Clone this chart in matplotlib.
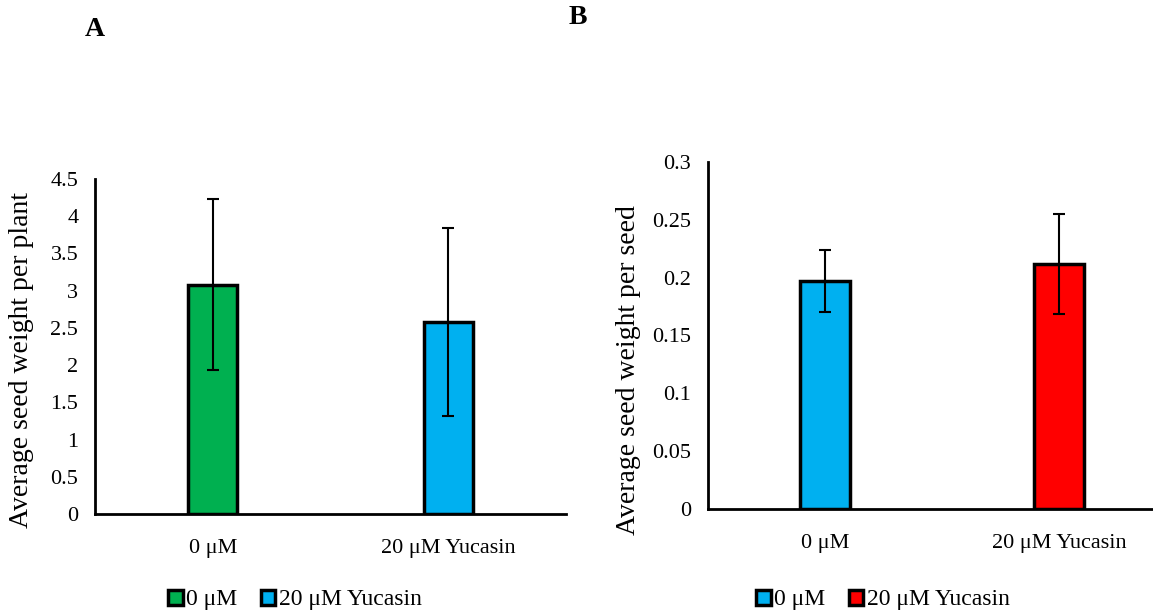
import matplotlib.pyplot as plt

plt.rcParams['font.family'] = ['Liberation Serif', 'DejaVu Serif']

# panel A data
cats_a = ['0 μM', '20 μM Yucasin']
vals_a = [3.08, 2.58]
errs_a = [1.15, 1.26]
cols_a = ['#00B050', '#00B0F0']

# panel B data
cats_b = ['0 μM', '20 μM Yucasin']
vals_b = [0.197, 0.212]
errs_b = [0.027, 0.043]
cols_b = ['#00B0F0', '#FF0000']

W, H = 1153, 615
fig = plt.figure(figsize=(W / 100, H / 100), dpi=100)

def px_axes(x0, y0, x1, y1):
    # pixel box (top-left origin) -> figure fraction
    return fig.add_axes([x0 / W, 1 - y1 / H, (x1 - x0) / W, (y1 - y0) / H])

def draw(ax, cats, vals, errs, cols, ymax, step, ylabel, label_xy):
    x = [0.5, 1.5]
    bars = ax.bar(x, vals, width=0.21, color=cols, edgecolor='black', linewidth=2.5,
                  yerr=errs, capsize=4, error_kw=dict(elinewidth=1.5, capthick=1.5, ecolor='black'))
    ax.set_xlim(0, 2)
    ax.set_ylim(0, ymax)
    ticks = [i * step for i in range(int(round(ymax / step)) + 1)]
    ax.set_yticks(ticks)
    ax.set_yticklabels(['%g' % round(t, 2) for t in ticks])
    ax.set_xticks(x)
    ax.set_xticklabels(cats)
    ax.tick_params(length=0, labelsize=16, pad=12)
    ax.tick_params(axis='x', pad=18)
    for s in ['top', 'right']:
        ax.spines[s].set_visible(False)
    for s in ['left', 'bottom']:
        ax.spines[s].set_linewidth(2)
    ax.set_ylabel(ylabel, fontsize=20)
    ax.yaxis.set_label_coords(*label_xy)
    return bars

ax_a = px_axes(95, 179, 566, 514)
ax_b = px_axes(708, 162, 1176, 509)
bars_a = draw(ax_a, cats_a, vals_a, errs_a, cols_a, 4.5, 0.5, 'Average seed weight per plant', (-0.13, 0.46))
bars_b = draw(ax_b, cats_b, vals_b, errs_b, cols_b, 0.3, 0.05, 'Average seed weight per seed', (-0.143, 0.40))

for bars, cats, cx in [(bars_a, cats_a, 295 / W), (bars_b, cats_b, 883 / W)]:
    fig.legend(bars, cats, loc='center', bbox_to_anchor=(cx, 1 - 600 / H), ncol=2, frameon=False,
               fontsize=17, handlelength=0.6, handleheight=0.6, handletextpad=0.15, columnspacing=1.0)

fig.text(95 / W, 1 - 30 / H, 'A', fontsize=20, fontweight='bold', ha='center', va='center')
fig.text(578 / W, 1 - 18 / H, 'B', fontsize=20, fontweight='bold', ha='center', va='center')

fig.savefig('out.png', dpi=100)
